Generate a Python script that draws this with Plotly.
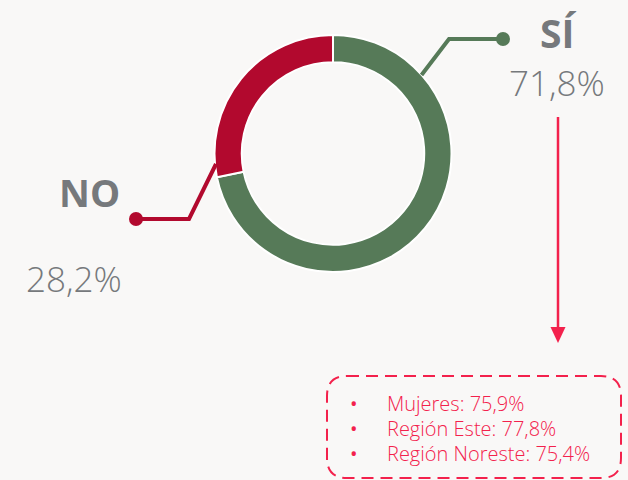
import plotly.graph_objects as go

labels = ["SÍ", "NO"]
values = [71.8, 28.2]
value_text = ["71,8%", "28,2%"]
colors = ["#567a58", "#b2092e"]
detail_items = ["Mujeres: 75,9%", "Región Este: 77,8%", "Región Noreste: 75,4%"]

W, H = 628, 480
BG = "#f9f8f7"
GRAY = "#76797c"
PINK = "#f3214c"

def px(x, y):
    return x / W, 1 - y / H

cx, cy, R = 333, 153.5, 118.5
x0, y1 = px(cx - R, cy - R)
x1, y0 = px(cx + R, cy + R)

fig = go.Figure(go.Pie(
    labels=labels, values=values, hole=0.77, sort=False,
    direction="clockwise", rotation=0,
    marker=dict(colors=colors, line=dict(color="white", width=2)),
    textinfo="none", hoverinfo="label+percent", showlegend=False,
    domain=dict(x=[x0, x1], y=[y0, y1]),
))

shapes = []
def path_px(points, color, width):
    d = "M " + " L ".join(f"{px(x, y)[0]:.5f},{px(x, y)[1]:.5f}" for x, y in points)
    shapes.append(dict(type="path", path=d, xref="paper", yref="paper",
                       line=dict(color=color, width=width)))

def dot(x, y, r, color):
    a, b = px(x - r, y + r)
    c, d = px(x + r, y - r)
    shapes.append(dict(type="circle", xref="paper", yref="paper", x0=a, y0=b, x1=c, y1=d,
                       fillcolor=color, line=dict(width=0)))

# leader lines
path_px([(421.5, 75), (449, 39), (503, 39)], colors[0], 4)
dot(503, 39, 7, colors[0])
path_px([(216, 164), (189, 219), (136, 219)], colors[1], 4)
dot(136, 219, 7, colors[1])

# arrow
path_px([(558, 117), (558, 330)], PINK, 2.5)
tri = "M " + " L ".join(f"{px(x, y)[0]:.5f},{px(x, y)[1]:.5f}" for x, y in [(550.5, 327), (565.5, 327), (558, 343)]) + " Z"
shapes.append(dict(type="path", path=tri, xref="paper", yref="paper",
                   fillcolor=PINK, line=dict(width=0)))

# dashed rounded box
bx0, by0, bx1, by1, r = 327, 376, 621, 478, 20
def P(x, y):
    a, b = px(x, y)
    return f"{a:.5f},{b:.5f}"
box = (f"M {P(bx0 + r, by0)} L {P(bx1 - r, by0)} Q {P(bx1, by0)} {P(bx1, by0 + r)} "
       f"L {P(bx1, by1 - r)} Q {P(bx1, by1)} {P(bx1 - r, by1)} "
       f"L {P(bx0 + r, by1)} Q {P(bx0, by1)} {P(bx0, by1 - r)} "
       f"L {P(bx0, by0 + r)} Q {P(bx0, by0)} {P(bx0 + r, by0)}")
shapes.append(dict(type="path", path=box, xref="paper", yref="paper",
                   line=dict(color=PINK, width=2, dash="12px,7px")))

ann = []
def text(x, y, s, size, color, weight=400, xanchor="center"):
    a, b = px(x, y)
    ann.append(dict(x=a, y=b, xref="paper", yref="paper", text=s, showarrow=False,
                    xanchor=xanchor, yanchor="middle",
                    font=dict(family="Open Sans", size=size, color=color, weight=weight)))

text(558, 33, labels[0], 39, GRAY, 700)
text(557, 82, value_text[0], 35, GRAY, 300)
text(89, 192, labels[1], 38, GRAY, 700)
text(74, 278, value_text[1], 35, GRAY, 300)

for i, item in enumerate(detail_items):
    yy = 403 + i * 25
    text(354, yy, "•", 20, PINK, 400)
    text(385, yy, item, 20, PINK, 300, xanchor="left")

fig.update_layout(
    width=W, height=H, margin=dict(l=0, r=0, t=0, b=0),
    paper_bgcolor=BG, plot_bgcolor=BG,
    shapes=shapes, annotations=ann,
)
fig.write_html("out.html", config={"displayModeBar": False},
               post_script="document.body.style.margin='0';document.body.style.background='" + BG + "';")
